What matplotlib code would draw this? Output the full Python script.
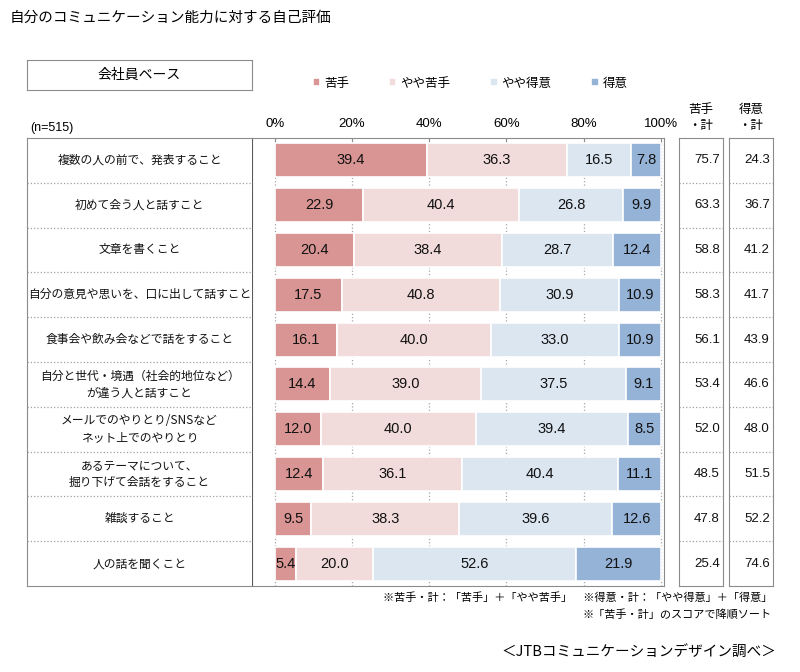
import matplotlib
matplotlib.use("Agg")
import matplotlib.pyplot as plt
import numpy as np

plt.rcParams['font.family'] = ['Noto Sans CJK JP', 'DejaVu Sans']
NUMFONT = ['Liberation Sans', 'Noto Sans CJK JP']

# data
items = [
    "複数の人の前で、発表すること",
    "初めて会う人と話すこと",
    "文章を書くこと",
    "自分の意見や思いを、口に出して話すこと",
    "食事会や飲み会などで話をすること",
    "自分と世代・境遇（社会的地位など）\nが違う人と話すこと",
    "メールでのやりとり/SNSなど\nネット上でのやりとり",
    "あるテーマについて、\n掘り下げて会話をすること",
    "雑談すること",
    "人の話を聞くこと",
]
nigate = [39.4, 22.9, 20.4, 17.5, 16.1, 14.4, 12.0, 12.4, 9.5, 5.4]
yaya_nigate = [36.3, 40.4, 38.4, 40.8, 40.0, 39.0, 40.0, 36.1, 38.3, 20.0]
yaya_tokui = [16.5, 26.8, 28.7, 30.9, 33.0, 37.5, 39.4, 40.4, 39.6, 52.6]
tokui = [7.8, 9.9, 12.4, 10.9, 10.9, 9.1, 8.5, 11.1, 12.6, 21.9]
nigate_total = [75.7, 63.3, 58.8, 58.3, 56.1, 53.4, 52.0, 48.5, 47.8, 25.4]
tokui_total = [24.3, 36.7, 41.2, 41.7, 43.9, 46.6, 48.0, 51.5, 52.2, 74.6]

series = ["苦手", "やや苦手", "やや得意", "得意"]
colors = ["#D99594", "#F2DCDB", "#DCE6F1", "#95B3D7"]

W, H = 800, 672
GRAY = "#8c8c8c"


def rect(x0, y0, x1, y1):
    return [x0 / W, 1 - y1 / H, (x1 - x0) / W, (y1 - y0) / H]


def ftext(x, y, s, **kw):
    return fig.text(x / W, 1 - y / H, s, **kw)


fig = plt.figure(figsize=(8, 6.72), dpi=100)
fig.patch.set_facecolor("white")

n = len(items)
ypos = np.arange(n) + 0.5

# bar chart
ax = fig.add_axes(rect(252, 138, 664, 586))
left = np.zeros(n)
handles = []
for name, vals, c in zip(series, [nigate, yaya_nigate, yaya_tokui, tokui], colors):
    vals = np.array(vals)
    b = ax.barh(ypos, vals, left=left, height=0.76, color=c,
                edgecolor="white", linewidth=1.2, label=name)
    handles.append(b)
    for y, l, v in zip(ypos, left, vals):
        ax.text(l + v / 2, y, f"{v:.1f}", ha="center", va="center",
                fontsize=10.5, color="#111111", family=NUMFONT)
    left += vals

ax.set_xlim(-5.88, 100.78)
ax.set_ylim(n, 0)
ax.xaxis.tick_top()
ax.set_xticks(np.arange(0, 101, 20))
ax.set_xticklabels([f"{t}%" for t in range(0, 101, 20)], fontsize=9.5,
                   family=NUMFONT)
ax.tick_params(axis="x", direction="in", length=4, color=GRAY, pad=6)
ax.set_yticks([])
ax.grid(axis="x", linestyle=":", color="#a6a6a6", linewidth=0.9)
ax.set_axisbelow(True)
for s in ["top", "right", "bottom"]:
    ax.spines[s].set_color(GRAY)
ax.spines["left"].set_color("#5a5a5a")

# label table
axt = fig.add_axes(rect(27, 138, 252, 586))
axt.set_xlim(0, 1)
axt.set_ylim(n, 0)
axt.set_xticks([])
axt.set_yticks([])
for s in axt.spines.values():
    s.set_color(GRAY)
axt.spines["right"].set_visible(False)
axt.hlines(np.arange(1, n), 0, 1, colors="#a0a0a0", linestyles=":", linewidth=0.9)
for y, lab in zip(ypos, items):
    axt.text(0.5, y, lab, ha="center", va="center", fontsize=8.5,
             linespacing=1.35, color="#111111")

# total columns
for x0, x1, vals, head in [(679, 723, nigate_total, "苦手\n・計"),
                           (729, 773, tokui_total, "得意\n・計")]:
    axc = fig.add_axes(rect(x0, 138, x1, 586))
    axc.set_xlim(0, 1)
    axc.set_ylim(n, 0)
    axc.set_xticks([])
    axc.set_yticks([])
    for s in axc.spines.values():
        s.set_color(GRAY)
    axc.hlines(np.arange(1, n), 0, 1, colors="#a0a0a0", linestyles=":", linewidth=0.9)
    for y, v in zip(ypos, vals):
        axc.text(0.93, y, f"{v:.1f}", ha="right", va="center", fontsize=9.5,
                 color="#111111", family=NUMFONT)
    ftext((x0 + x1) / 2, 118, head, ha="center", va="center", fontsize=9,
          linespacing=1.3)

# header
axh = fig.add_axes(rect(27, 60, 252, 90))
axh.set_xticks([])
axh.set_yticks([])
for s in axh.spines.values():
    s.set_color(GRAY)
axh.text(0.5, 0.5, "会社員ベース", ha="center", va="center", fontsize=10,
         transform=axh.transAxes)

ftext(10, 18, "自分のコミュニケーション能力に対する自己評価", ha="left",
      va="center", fontsize=10.5)
ftext(30, 128, "(n=515)", ha="left", va="center", fontsize=9, family=NUMFONT)

fig.legend(handles=handles, labels=series, loc="center",
           bbox_to_anchor=(470 / W, 1 - 83 / H), ncol=4, frameon=False,
           fontsize=9, handlelength=0.6, handleheight=0.6, handletextpad=0.3,
           columnspacing=3.2)

ftext(772, 598, "※苦手・計：「苦手」＋「やや苦手」　※得意・計：「やや得意」＋「得意」",
      ha="right", va="center", fontsize=8)
ftext(772, 615, "※「苦手・計」のスコアで降順ソート", ha="right", va="center",
      fontsize=8)
ftext(776, 652, "＜JTBコミュニケーションデザイン調べ＞", ha="right", va="center",
      fontsize=10.5)

fig.savefig("out.png", dpi=100, facecolor="white")
